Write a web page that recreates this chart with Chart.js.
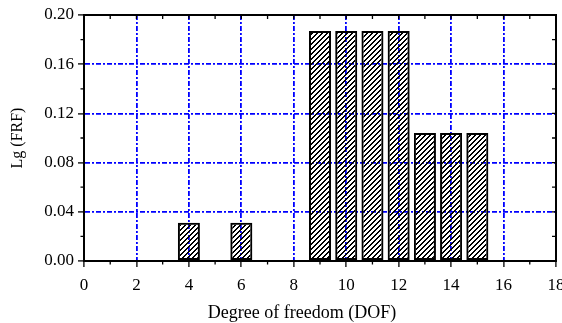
<!DOCTYPE html>
<html>
<head>
<meta charset="utf-8">
<script src="https://cdn.jsdelivr.net/npm/chart.js@4"></script>
<style>
  html, body { margin: 0; padding: 0; background: #fff; }
  #wrap { width: 562px; height: 323px; }
</style>
</head>
<body>
<div id="wrap"><canvas id="c" width="562" height="323"></canvas></div>
<script>
// ---- data ----
const dof = [4, 6, 9, 10, 11, 12, 13, 14, 15];
const lgFrf = [0.031, 0.031, 0.187, 0.187, 0.187, 0.187, 0.104, 0.104, 0.104];
const xTickValues = [0, 2, 4, 6, 8, 10, 12, 14, 16, 18];
const yTickValues = [0, 0.04, 0.08, 0.12, 0.16, 0.20];
const xTitle = 'Degree of freedom (DOF)';
const yTitle = 'Lg (FRF)';

// ---- hatch pattern (crisp 45° stripes) ----
function makeHatch() {
  const s = 5;
  const pc = document.createElement('canvas');
  pc.width = s; pc.height = s;
  const p = pc.getContext('2d');
  p.fillStyle = '#000';
  for (let y = 0; y < s; y++) {
    for (let k = 0; k < 2; k++) {
      const x = ((s - 1 - y + k) % s + s) % s;
      p.fillRect(x, y, 1, 1);
    }
  }
  return document.getElementById('c').getContext('2d').createPattern(pc, 'repeat');
}

const FONT = 'Liberation Serif, Times New Roman, serif';
const gridDash = [5, 2, 2, 2];
const near = (a, b) => Math.abs(a - b) < 1e-9;

const framePlugin = {
  id: 'frame',
  afterDraw(chart) {
    const { ctx, chartArea: a, scales } = chart;
    const xs = scales.x, ys = scales.y;
    ctx.save();
    ctx.strokeStyle = '#000';
    ctx.setLineDash([]);
    ctx.lineWidth = 2;
    ctx.beginPath();
    ctx.moveTo(a.left, a.bottom); ctx.lineTo(a.left, a.top);
    ctx.lineTo(a.right, a.top); ctx.lineTo(a.right, a.bottom);
    ctx.lineTo(a.left, a.bottom);
    ctx.closePath();
    ctx.stroke();
    ctx.lineWidth = 1.3;
    ctx.beginPath();
    for (let v = xs.min; v <= xs.max + 1e-9; v += 1) {
      const px = xs.getPixelForValue(v);
      if (Math.round(v) % 2 === 1) {
        ctx.moveTo(px, a.bottom); ctx.lineTo(px, a.bottom + 3.5);
      }
      ctx.moveTo(px, a.top); ctx.lineTo(px, a.top + 4);
    }
    for (let k = 0; k <= 10; k++) {
      const v = k * 0.02;
      const py = ys.getPixelForValue(v);
      if (k % 2 === 1) {
        ctx.moveTo(a.left, py); ctx.lineTo(a.left - 3.5, py);
      }
      ctx.moveTo(a.right, py); ctx.lineTo(a.right - 4, py);
    }
    ctx.stroke();
    ctx.fillStyle = '#000';
    ctx.font = '18px ' + FONT;
    ctx.textAlign = 'center';
    ctx.textBaseline = 'alphabetic';
    ctx.fillText(xTitle, (a.left + a.right) / 2 - 18, chart.height - 5);
    ctx.restore();
  }
};

new Chart(document.getElementById('c'), {
  type: 'bar',
  data: {
    datasets: [{
      data: dof.map((x, i) => ({ x: x, y: lgFrf[i] })),
      backgroundColor: makeHatch(),
      borderColor: '#000',
      borderWidth: 2,
      borderSkipped: false,
      barPercentage: 0.84,
      categoryPercentage: 1.0
    }]
  },
  options: {
    responsive: false,
    animation: false,
    devicePixelRatio: 1,
    layout: { padding: { top: 15, right: 6, left: 0, bottom: 0 } },
    plugins: { legend: { display: false }, tooltip: { enabled: false } },
    scales: {
      x: {
        type: 'linear',
        min: 0, max: 18,
        offset: false,
        afterBuildTicks(s) { s.ticks = xTickValues.map(v => ({ value: v })); },
        afterFit(s) { s.height = 62; s.paddingLeft = 0; s.paddingRight = 0; },
        ticks: {
          color: '#000',
          font: { family: FONT, size: 17 },
          padding: 8,
          maxRotation: 0,
          autoSkip: false,
          callback: v => String(v)
        },
        grid: {
          offset: false,
          color: c => (c.tick && (near(c.tick.value, 0) || near(c.tick.value, 18))) ? 'rgba(0,0,0,0)' : '#0000ff',
          lineWidth: 1.8,
          tickColor: '#000',
          tickLength: 6,
          tickWidth: 1.3,
          tickBorderDash: []
        },
        border: { display: true, color: '#000', width: 2, dash: gridDash },
        title: { display: false }
      },
      y: {
        min: 0, max: 0.2,
        afterBuildTicks(s) { s.ticks = yTickValues.map(v => ({ value: v })); },
        afterFit(s) { s.width = 84; s.paddingTop = 0; s.paddingBottom = 0; },
        ticks: {
          color: '#000',
          font: { family: FONT, size: 17 },
          padding: 4,
          autoSkip: false,
          callback: v => Number(v).toFixed(2)
        },
        grid: {
          color: c => (c.tick && (near(c.tick.value, 0) || near(c.tick.value, 0.2))) ? 'rgba(0,0,0,0)' : '#0000ff',
          lineWidth: 1.8,
          tickColor: '#000',
          tickLength: 6,
          tickWidth: 1.3,
          tickBorderDash: []
        },
        border: { display: true, color: '#000', width: 2, dash: gridDash },
        title: {
          display: true,
          text: yTitle,
          color: '#000',
          font: { family: FONT, size: 16 },
          padding: { top: 8, bottom: 0 }
        }
      }
    }
  },
  plugins: [framePlugin]
});
</script>
</body>
</html>
